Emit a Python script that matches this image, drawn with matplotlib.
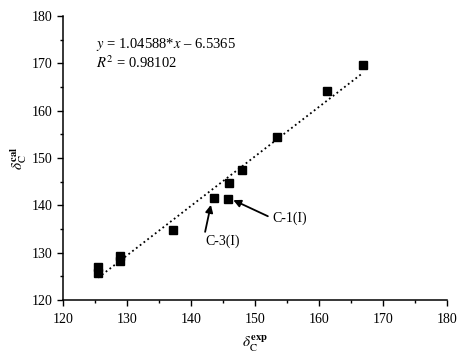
import matplotlib
matplotlib.use("Agg")
import matplotlib.pyplot as plt
import numpy as np
from matplotlib.ticker import MultipleLocator

plt.rcParams["font.family"] = ["Liberation Serif", "DejaVu Serif"]
plt.rcParams["mathtext.fontset"] = "stix"

delta_exp = [125.5, 125.5, 128.9, 128.9, 137.2, 143.6, 145.8, 146.0, 147.9, 153.4, 161.3, 166.8]
delta_cal = [127.0, 125.7, 129.3, 128.2, 134.8, 141.5, 141.3, 144.8, 147.5, 154.5, 164.2, 169.6]

slope = 1.04588
intercept = -6.5365
r2 = 0.98102

fig = plt.figure(figsize=(4.65, 3.53), dpi=100)
ax = fig.add_axes([0.1355, 0.150, 0.826, 0.805])

# fitted line
fit_x = np.array([min(delta_exp), max(delta_exp)])
ax.plot(fit_x, slope * fit_x + intercept, color="black", linestyle=":", linewidth=1.3)

ax.plot(delta_exp, delta_cal, linestyle="none", marker="s", markersize=5.2,
        color="black")

ax.text(0.086, 0.898, r"$y$ = 1.04588*$x$ – 6.5365", transform=ax.transAxes,
        fontsize=10.5, va="center")
ax.text(0.086, 0.835, r"$R^2$ = 0.98102", transform=ax.transAxes,
        fontsize=10.5, va="center")

# annotations: arrows and their labels
arrow = dict(arrowstyle="-|>", color="black", lw=1.3, mutation_scale=11,
             shrinkA=0, shrinkB=0)
ax.annotate("", xy=(146.6, 141.1), xytext=(152.0, 137.7), arrowprops=arrow)
ax.text(152.7, 137.3, "C-1(I)", fontsize=10, ha="left", va="center")
ax.annotate("", xy=(143.1, 140.1), xytext=(142.2, 134.4), arrowprops=arrow)
ax.text(142.2, 132.5, "C-3(I)", fontsize=10, ha="left", va="center")

ax.set_xlim(120, 180)
ax.set_ylim(120, 180)
ax.xaxis.set_major_locator(MultipleLocator(10))
ax.xaxis.set_minor_locator(MultipleLocator(5))
ax.yaxis.set_major_locator(MultipleLocator(10))
ax.yaxis.set_minor_locator(MultipleLocator(5))
ax.tick_params(which="major", direction="out", length=4, width=1, labelsize=10)
ax.tick_params(axis="x", which="major", pad=5)
ax.tick_params(which="minor", direction="out", length=2.5, width=1)

for side in ["top", "right"]:
    ax.spines[side].set_visible(False)
for side in ["left", "bottom"]:
    ax.spines[side].set_linewidth(1.1)

ax.set_xlabel(r"$\delta_{\mathrm{C}}^{\mathbf{exp}}$", fontsize=11, labelpad=6)
ax.set_ylabel(r"$\delta_{\mathrm{C}}^{\mathbf{cal}}$", fontsize=11, labelpad=2)

fig.savefig("out.png", dpi=100)
